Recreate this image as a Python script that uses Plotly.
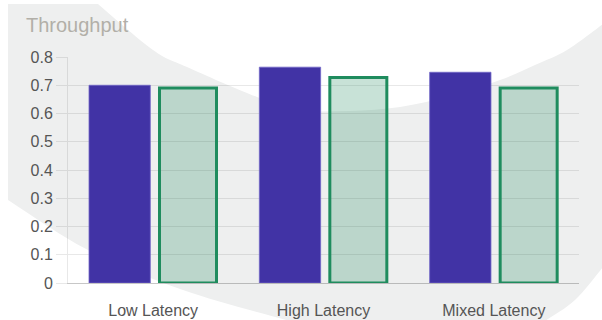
import plotly.graph_objects as go

# ---- data ----
categories = ["Low Latency", "High Latency", "Mixed Latency"]
series_a = [0.70, 0.764, 0.746]
series_b = [0.69, 0.727, 0.69]
y_ticks = [0, 0.1, 0.2, 0.3, 0.4, 0.5, 0.6, 0.7, 0.8]
y_tick_labels = ["0", "0.1", "0.2", "0.3", "0.4", "0.5", "0.6", "0.7", "0.8"]
title_text = "Throughput"

# ---- layout geometry (pixels) ----
W, H = 602, 320
L, R, T, B = 68, 579, 57, 283


def to_paper(p):
    x, y = p
    return (x - L) / (R - L), (B - y) / (B - T)


def smooth(points):
    # Catmull-Rom through points -> cubic bezier segments (no leading M)
    segs = []
    n = len(points)
    for i in range(n - 1):
        p0 = points[i - 1] if i > 0 else points[i]
        p1 = points[i]
        p2 = points[i + 1]
        p3 = points[i + 2] if i + 2 < n else points[i + 1]
        c1 = (p1[0] + (p2[0] - p0[0]) / 6, p1[1] + (p2[1] - p0[1]) / 6)
        c2 = (p2[0] - (p3[0] - p1[0]) / 6, p2[1] - (p3[1] - p1[1]) / 6)
        a, b, c = to_paper(c1), to_paper(c2), to_paper(p2)
        segs.append(f"C {a[0]:.5f},{a[1]:.5f} {b[0]:.5f},{b[1]:.5f} {c[0]:.5f},{c[1]:.5f}")
    return " ".join(segs)


def pt(cmd, p):
    a = to_paper(p)
    return f"{cmd} {a[0]:.5f},{a[1]:.5f}"


top_curve = [(98, 4), (153, 50), (187, 67), (257, 97), (300, 110), (350, 111),
             (400, 107), (450, 96), (500, 80), (535, 65), (567, 50), (603, 24)]
br_curve = [(603, 267), (575, 300), (545, 321)]
bl_curve = [(290, 321), (183, 290), (88, 250), (8, 200)]

path = " ".join([
    pt("M", (8, 4)), pt("L", (98, 4)), smooth(top_curve),
    pt("L", (603, 267)), smooth(br_curve),
    pt("L", (545, 322)), pt("L", (290, 322)), pt("L", (290, 321)),
    smooth(bl_curve), pt("L", (8, 4)), "Z",
])

cat_px = (R - L) / 3  # pixel width of one category

fig = go.Figure()
fig.add_trace(go.Bar(
    x=categories, y=series_a,
    width=61.3 / cat_px, offset=(89 - (L + cat_px / 2)) / cat_px,
    marker=dict(color="#4133a5", line=dict(color="#7166c6", width=0.8)),
    showlegend=False, hoverinfo="skip",
))
fig.add_trace(go.Bar(
    x=categories, y=series_b,
    width=57 / cat_px, offset=(159.5 - (L + cat_px / 2)) / cat_px,
    marker=dict(color="rgba(34,139,94,0.25)", line=dict(color="#1f8c5e", width=3)),
    showlegend=False, hoverinfo="skip",
))

fig.update_layout(
    width=W, height=H,
    margin=dict(l=L, r=W - R, t=T, b=H - B, autoexpand=False),
    paper_bgcolor="white", plot_bgcolor="rgba(0,0,0,0)",
    barmode="overlay",
    font=dict(family="Liberation Sans, Arial, sans-serif", size=16, color="#555555"),
    title=dict(text=title_text, xref="container", yref="container",
               x=26 / W, xanchor="left", y=1 - 25 / H, yanchor="middle",
               font=dict(size=20, color="#b2afa8")),
    shapes=[dict(type="path", path=path, xref="paper", yref="paper",
                 fillcolor="#eeefef", line=dict(width=0), layer="below")],
    xaxis=dict(
        showgrid=False, zeroline=False,
        showline=True, linecolor="rgba(0,0,0,0.22)", linewidth=1,
        ticks="outside", ticklen=13, tickcolor="rgba(0,0,0,0)",
        tickfont=dict(size=16, color="#555555"),
        range=[-0.5, 2.5],
    ),
    yaxis=dict(
        range=[0, 0.8], tickvals=y_ticks, ticktext=y_tick_labels,
        showgrid=True, gridcolor="rgba(0,0,0,0.09)", gridwidth=1,
        zeroline=False,
        showline=True, linecolor="rgba(0,0,0,0.09)", linewidth=1,
        ticks="outside", ticklen=11, tickcolor="rgba(0,0,0,0.09)", tickwidth=1,
        tickfont=dict(size=16, color="#555555"),
    ),
)

fig.write_html("out.html")
